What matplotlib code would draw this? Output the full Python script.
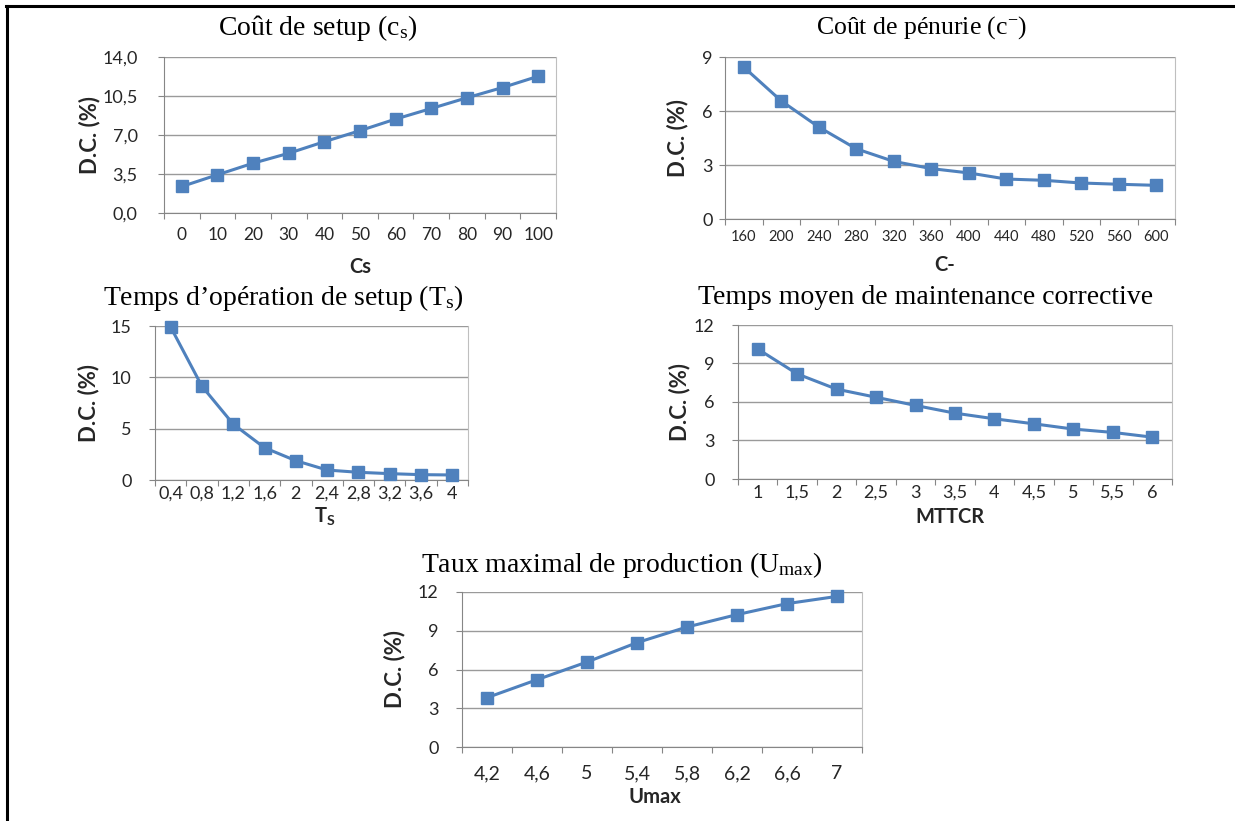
import matplotlib
matplotlib.use("Agg")
import matplotlib.pyplot as plt
from matplotlib.lines import Line2D

plt.rcParams['font.family'] = ['Lato', 'DejaVu Sans']
plt.rcParams['mathtext.fontset'] = 'custom'
plt.rcParams['mathtext.rm'] = 'Liberation Serif'
plt.rcParams['mathtext.it'] = 'Liberation Serif:italic'
plt.rcParams['mathtext.bf'] = 'Lato:bold'

# Données
cs = ['0', '10', '20', '30', '40', '50', '60', '70', '80', '90', '100']
dc_cs = [2.38, 3.43, 4.47, 5.36, 6.40, 7.39, 8.43, 9.38, 10.34, 11.26, 12.27]

cmoins = ['160', '200', '240', '280', '320', '360', '400', '440', '480', '520', '560', '600']
dc_cmoins = [8.44, 6.56, 5.11, 3.90, 3.20, 2.80, 2.56, 2.22, 2.15, 2.00, 1.93, 1.87]

ts = ['0,4', '0,8', '1,2', '1,6', '2', '2,4', '2,8', '3,2', '3,6', '4']
dc_ts = [14.9, 9.13, 5.44, 3.14, 1.88, 0.97, 0.75, 0.62, 0.52, 0.49]

mttcr = ['1', '1,5', '2', '2,5', '3', '3,5', '4', '4,5', '5', '5,5', '6']
dc_mttcr = [10.13, 8.19, 7.00, 6.37, 5.73, 5.13, 4.69, 4.30, 3.89, 3.63, 3.26]

umax = ['4,2', '4,6', '5', '5,4', '5,8', '6,2', '6,6', '7']
dc_umax = [3.82, 5.21, 6.58, 8.08, 9.29, 10.25, 11.10, 11.66]

W, H = 1235, 821
BLEU = '#4F81BD'
GRIS_AXE = '#868686'
GRIS_GRILLE = '#9A9A9A'
TEXTE = '#262626'

fig = plt.figure(figsize=(W / 100, H / 100), dpi=100)


def px(x, y):
    return x / W, 1 - y / H


def trace(box, cats, vals, yticks, yticklabels, xlabel, xlabel_xy, ylabel_x,
          titre, titre_xy, fs_x=13, ypad=12, xpad=8, fs_titre=20):
    x0, y0, x1, y1 = box
    ax = fig.add_axes([x0 / W, 1 - y1 / H, (x1 - x0) / W, (y1 - y0) / H])
    n = len(cats)
    ax.plot(range(n), vals, color=BLEU, lw=2.2, marker='s', ms=8.5, zorder=3, clip_on=False)
    ax.set_xlim(-0.5, n - 0.5)
    ax.set_ylim(yticks[0], yticks[-1])
    # graduations entre les catégories, étiquettes au centre
    ax.set_xticks([i - 0.5 for i in range(n + 1)])
    ax.set_xticklabels([])
    ax.set_xticks(range(n), minor=True)
    ax.set_xticklabels(cats, minor=True, fontsize=fs_x, color=TEXTE)
    ax.tick_params(axis='x', which='major', length=4, color=GRIS_AXE, direction='out')
    ax.tick_params(axis='x', which='minor', length=0, pad=xpad)
    ax.set_yticks(yticks)
    ax.set_yticklabels(yticklabels, fontsize=13, color=TEXTE)
    ax.tick_params(axis='y', length=4, color=GRIS_AXE, pad=ypad)
    ax.grid(axis='y', color=GRIS_GRILLE, lw=1)
    ax.set_axisbelow(True)
    for s in ['left', 'bottom']:
        ax.spines[s].set_color(GRIS_AXE)
    ax.spines['right'].set_color('#BFBFBF')
    ax.spines['top'].set_visible(False)
    fig.text(*px(ylabel_x, (y0 + y1) / 2), 'D.C. (%)', fontsize=16, fontweight='bold',
             rotation=90, ha='center', va='center', color=TEXTE)
    fig.text(*px(*xlabel_xy), xlabel, fontsize=14.5, fontweight='bold',
             ha='center', va='center', color=TEXTE)
    fig.text(*px(*titre_xy), titre, fontsize=fs_titre,
             family='Liberation Serif', ha='center', va='center')
    return ax


trace((164, 57, 556, 213), cs, dc_cs, [0, 3.5, 7, 10.5, 14],
      ['0,0', '3,5', '7,0', '10,5', '14,0'], 'Cs', (360, 267), 90,
      r'Coût de setup (c$_\mathrm{s}$)', (318, 28), fs_x=12.5, ypad=15, xpad=10)

trace((725, 57, 1175, 219), cmoins, dc_cmoins, [0, 3, 6, 9],
      ['0', '3', '6', '9'], 'C-', (945, 265), 678,
      r'Coût de pénurie (c$^{-}$)', (922, 28), fs_x=10.5, ypad=5, fs_titre=18.5)

trace((155, 326, 468, 480), ts, dc_ts, [0, 5, 10, 15],
      ['0', '5', '10', '15'], r'$\mathbf{T_S}$', (325, 517), 89,
      r'Temps d’opération de setup (T$_\mathrm{s}$)', (283, 298), ypad=13, xpad=4)

trace((738, 325, 1172, 479), mttcr, dc_mttcr, [0, 3, 6, 9, 12],
      ['0', '3', '6', '9', '12'], 'MTTCR', (950, 517), 680,
      'Temps moyen de maintenance corrective', (926, 297), ypad=13, xpad=4)

trace((462, 592, 862, 747), umax, dc_umax, [0, 3, 6, 9, 12],
      ['0', '3', '6', '9', '12'], 'Umax', (655, 797), 395,
      r'Taux maximal de production (U$_\mathrm{max}$)', (622, 565),
      fs_x=14, ypad=13, xpad=13)

# cadre du document (haut et gauche visibles)
fig.add_artist(Line2D([6 / W, 1], [1 - 6 / H, 1 - 6 / H], color='black', lw=2.2))
fig.add_artist(Line2D([7 / W, 7 / W], [0, 1 - 6 / H], color='black', lw=2.2))

fig.savefig('out.png', dpi=100)
